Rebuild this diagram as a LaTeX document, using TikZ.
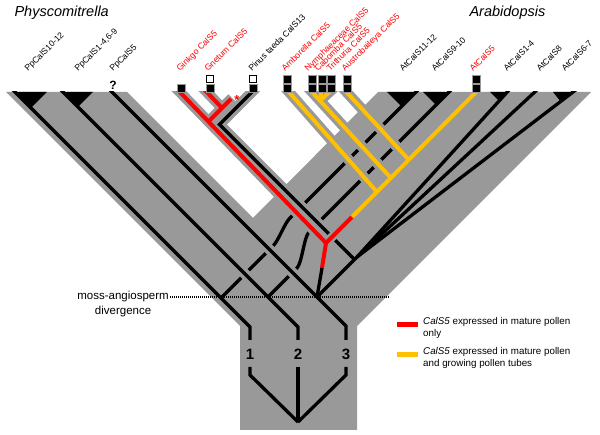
\documentclass[tikz,border=0pt]{standalone}
\usepackage{fontspec}
\setmainfont{Liberation Sans}
\begin{document}
\begin{tikzpicture}[x=1pt,y=-1pt,
  blk/.style={line width=3.3pt, black},
  rd/.style={line width=4pt, red},
  yw/.style={line width=4pt, yl},
  halo/.style={line width=10.5pt, gr},
  lbl/.style={rotate=45, anchor=base west, font=\fontsize{8.6}{10}\selectfont, inner sep=0pt},
  sqf/.style={fill=black, draw=gr, line width=0.6pt},
  sqe/.style={fill=white, draw=black, line width=0.8pt}]
\definecolor{gr}{RGB}{153,153,153}
\definecolor{yl}{RGB}{255,192,0}
\useasboundingbox (0,0) rectangle (600,435);
% main gray body
\fill[gr] (240,430) -- (240,326) -- (6,92) -- (127,92) -- (253,218) -- (378,92) -- (591,92) -- (357,326) -- (357,430) -- cycle;
\begin{scope}
\clip (0,92) rectangle (600,435);
% named points
\coordinate (Y) at (326,243);
\coordinate (D1) at (222,297);
\coordinate (D2) at (268,297);
\coordinate (D3) at (317,297);
\coordinate (F) at (357,257);
\coordinate (NJ) at (320,100.7);
% seed lineages 1 and 2 (drawn first, interrupted by crossings)
\draw[blk] (D1) -- (273,246) .. controls (279,240) and (284,224) .. (290,218) -- (419,89);
\draw[blk] (D2) -- (297,268) .. controls (302,263) and (304,237) .. (309,232) -- (452,89);
% halos of the gymnosperm and basal angiosperm lines
\draw[halo] (173,85) -- (Y);
\draw[halo] (200,85) -- (222,108);
\draw[halo] (209,121) -- (232,98);
\draw[halo] (259,85) -- (219.5,124.5) -- (354,259);
\draw[halo] (282.8,85) -- (377,192);
\draw[halo] (305.6,85) -- (NJ) -- (390,177);
\draw[halo] (322,85) -- (NJ);
\draw[halo] (337,85) -- (NJ);
\draw[halo] (340,85) -- (408,159);
% crossing gaps on the moss lines
\draw[halo] (237,266) -- (253,282);
\draw[halo] (261.5,241.5) -- (277.5,257.5);
\draw[halo] (284.5,264.5) -- (300.5,280.5);
% moss lines
\fill (15,92) -- (47,92) -- (31,108) -- cycle;
\fill (63,92) -- (93,92) -- (78,107) -- cycle;
\draw[blk] (8,85) -- (250,327) -- (250,340);
\draw[blk] (56,85) -- (298,327) -- (298,340);
\draw[blk] (105,85) -- (346,326) -- (346,340);
\draw[blk] (250,367) -- (250,375) -- (298,422);
\draw[blk] (298,367) -- (298,422);
\draw[blk] (346,367) -- (346,375) -- (298,422);
% Arabidopsis triangles
\fill (387,92) -- (416,92) -- (401.5,106.5) -- cycle;
\fill (423,92) -- (449,92) -- (436,105) -- cycle;
\fill (490,92) -- (507,92) -- (499,101) -- cycle;
\fill (553,92) -- (573,92) -- (561,102) -- cycle;
% seed lineage 3 + Arabidopsis fan
\draw[blk] (D3) -- (F);
\draw[blk] (F) -- (510,89);
\draw[blk] (F) -- (538,89);
\draw[blk] (F) -- (577,89);
% Pinus
\draw[blk] (259,85) -- (219.5,124.5) -- (354,259);
% gap in Pinus where the red arm crosses
\draw[gr, line width=9pt] (328,241) -- (350,219);
% gymnosperm red
\draw[rd] (173,85) -- (Y) -- (322,268);
\draw[blk] (322,268) -- (D3);
\draw[rd] (200,85) -- (222,108);
\draw[rd] (209,121) -- (231,99);
\draw[rd] (Y) -- (353,216);
\draw[yw] (352,217) -- (481,87);
% basal angiosperm yellow
\draw[yw] (282.8,85) -- (377,192);
\draw[yw] (305.6,85) -- (NJ) -- (390,177);
\draw[yw] (322,85) -- (NJ);
\draw[yw] (337,85) -- (NJ);
\draw[yw] (340,85) -- (408,159);
\end{scope}
\node[red, font=\bfseries\fontsize{13}{13}\selectfont, inner sep=0pt] at (237,100) {*};
% divergence
\draw[black, line width=1.1pt, dash pattern=on 1pt off 1pt] (170,297) -- (390,297);
\node[align=center, font=\fontsize{11.5}{15}\selectfont, anchor=north east, inner sep=0pt] at (169,291) {moss-angiosperm\\divergence};
% numbers
\foreach \x/\n in {250/1,298/2,346/3}
  \node[font=\bfseries\fontsize{15}{15}\selectfont] at (\x,354) {\n};
% squares
\foreach \x in {181,210,253,287,312,322,331,347,476}
  \draw[sqf] (\x-4,84) rectangle (\x+4,92);
\foreach \x in {287,312,322,331,347,476}
  \draw[sqf] (\x-4,75) rectangle (\x+4,83);
\foreach \x in {210,253}
  \draw[sqe] (\x-3.5,75.5) rectangle (\x+3.5,82.5);
\node[font=\bfseries\fontsize{12}{12}\selectfont] at (113,85) {?};
% titles
\node[font=\itshape\fontsize{14.5}{16}\selectfont, anchor=west] at (11,13) {Physcomitrella};
\node[font=\itshape\fontsize{14.5}{16}\selectfont, anchor=west] at (466,13) {Arabidopsis};
% leaf labels
\node[lbl] at (28,72) {PpCalS10-12};
\node[lbl] at (78,72) {PpCalS1-4,6-9};
\node[lbl] at (113,72) {PpCalS5};
\node[lbl, red] at (180,72) {Ginkgo CalS5};
\node[lbl, red] at (208,72) {Gnetum CalS5};
\node[lbl] at (252,72) {Pinus taeda CalS13};
\node[lbl, red] at (285,72) {Amborella CalS5};
\node[lbl, red] at (308,72) {Nymphaeaceae CalS5};
\node[lbl, red] at (318,72) {Cabomba CalS5};
\node[lbl, red] at (330,72) {Trithuria CalS5};
\node[lbl, red] at (345,72) {Austrobaileya CalS5};
\node[lbl] at (403,72) {AtCalS11-12};
\node[lbl] at (435,72) {AtCalS9-10};
\node[lbl, red] at (473,72) {AtCalS5};
\node[lbl] at (507,72) {AtCalS1-4};
\node[lbl] at (540,72) {AtCalS8};
\node[lbl] at (565,72) {AtCalS6-7};
% legend
\fill[red] (397,322) rectangle (418,327);
\fill[yl] (397,352) rectangle (418,357);
\node[anchor=north west, align=left, font=\fontsize{9.8}{12}\selectfont, inner sep=0pt] at (423,317) {\textit{CalS5} expressed in mature pollen\\only};
\node[anchor=north west, align=left, font=\fontsize{9.8}{12}\selectfont, inner sep=0pt] at (423,347) {\textit{CalS5} expressed in mature pollen\\and growing pollen tubes};
\end{tikzpicture}
\end{document}
